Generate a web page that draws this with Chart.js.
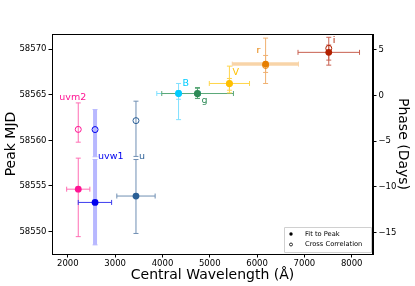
<!DOCTYPE html>
<html>
<head>
<meta charset="utf-8">
<script src="https://cdn.jsdelivr.net/npm/chart.js@4"></script>
<style>
  html, body { margin: 0; padding: 0; background: #fff; }
  canvas { display: block; }
</style>
</head>
<body>
<canvas id="myChart" width="415" height="286"></canvas>
<script>
  // bands, central wavelengths (A) and their widths
  const bands = ['uvm2', 'uvw1', 'u', 'B', 'g', 'V', 'r', 'i'];
  const wavelength = [2220, 2575, 3440, 4340, 4740, 5415, 6180, 7515];
  const wlLow = [1975, 2220, 3035, 3880, 3985, 4990, 5475, 6865];
  const wlHigh = [2465, 2925, 3845, 4800, 5500, 5840, 6875, 8165];

  // fit to peak (MJD) and error range
  const fitPeak = [58554.65, 58553.2, 58553.9, 58565.13, 58565.13, 58566.23, 58568.35, 58569.64];
  const fitLow = [58549.45, 58548.55, 58549.8, 58564.5, 58564.58, 58565.49, 58567.44, 58568.79];
  const fitHigh = [58558.05, 58557.9, 58557.9, 58565.42, 58565.79, 58566.78, 58569.3, 58570.44];

  // cross correlation (MJD) and error range
  const ccPeak = [58561.2, 58561.18, 58562.16, 58565.13, 58565.1, 58566.2, 58568.2, 58570.08];
  const ccLow = [58559.8, 58558.2, 58558.24, 58562.27, 58564.6, 58565.2, 58566.23, 58568.24];
  const ccHigh = [58564.1, 58563.37, 58564.29, 58566.23, 58565.7, 58568.13, 58571.2, 58571.29];

  const xTicks = [2000, 3000, 4000, 5000, 6000, 7000, 8000];
  const yTicks = [58550, 58555, 58560, 58565, 58570];
  const phaseTicks = [-15, -10, -5, 0, 5];
  const phaseZero = 58564.9;

  const yMin = 58547.55, yMax = 58571.65;

  // styles
  const pointColors = ['#ff1493', '#0000ee', '#2a5f96', '#00ccff', '#2e8b57', '#ffc000', '#e67e00', '#b22000'];
  const barColors = ['#ff6eb4', '#3c3cee', '#6f8fb3', '#7fe0ff', '#5aa878', '#ffd54a', '#f0b070', '#c86050'];
  const labelOffsets = [[-19, -92], [3, -46], [3, -40], [4, -10], [4, 7], [3, -11], [-9, -14], [4, -12]];

  const fontFamily = "'DejaVu Sans', sans-serif";

  function line(c, x1, y1, x2, y2, color, w) {
      c.strokeStyle = color;
      c.lineWidth = w;
      c.beginPath();
      c.moveTo(x1, y1);
      c.lineTo(x2, y2);
      c.stroke();
  }

  function vbar(c, x, ya, yb, color, w) {
      line(c, x, ya, x, yb, color, w);
      line(c, x - 2.5, ya, x + 2.5, ya, color, 1);
      line(c, x - 2.5, yb, x + 2.5, yb, color, 1);
  }

  function hbar(c, y, xa, xb, color, w) {
      line(c, xa, y, xb, y, color, w);
      line(c, xa, y - 2.5, xa, y + 2.5, color, 1);
      line(c, xb, y - 2.5, xb, y + 2.5, color, 1);
  }

  const errorBars = {
      id: 'errorBars',
      beforeDatasetsDraw(chart) {
          const c = chart.ctx;
          const xs = chart.scales.x, ys = chart.scales.y;
          c.save();
          for (let i = 0; i < bands.length; i++) {
              const x = xs.getPixelForValue(wavelength[i]);
              const col = barColors[i];
              // thick translucent bars for uvw1 (vertical) and r (horizontal)
              const vw = i === 1 ? 4 : 1;
              const hw = i === 6 ? 3.5 : 1;
              const vcol = i === 1 ? '#b8b8ff' : col;
              const hcol = i === 6 ? '#f8d4a8' : col;
              vbar(c, x, ys.getPixelForValue(ccLow[i]), ys.getPixelForValue(ccHigh[i]), vcol, vw);
              vbar(c, x, ys.getPixelForValue(fitLow[i]), ys.getPixelForValue(fitHigh[i]), vcol, vw);
              hbar(c, ys.getPixelForValue(fitPeak[i]), xs.getPixelForValue(wlLow[i]), xs.getPixelForValue(wlHigh[i]), i === 1 ? '#3c3cee' : hcol, hw);
          }
          c.restore();
      },
      afterDatasetsDraw(chart) {
          const c = chart.ctx;
          const a = chart.chartArea;
          const xs = chart.scales.x, ys = chart.scales.y;
          c.save();
          // band labels
          c.font = '9.5px ' + fontFamily;
          c.textBaseline = 'middle';
          c.textAlign = 'left';
          for (let i = 0; i < bands.length; i++) {
              const x = xs.getPixelForValue(wavelength[i]);
              const y = ys.getPixelForValue(fitPeak[i]);
              c.fillStyle = pointColors[i];
              c.fillText(bands[i], x + labelOffsets[i][0], y + labelOffsets[i][1]);
          }
          // frame
          c.strokeStyle = '#000';
          c.lineWidth = 1;
          c.strokeRect(a.left + 0.5, a.top + 0.5, a.right - a.left - 1, a.bottom - a.top);
          // legend
          const bw = 87, bh = 25;
          const bx = a.right - bw - 2, by = a.bottom - bh - 2;
          c.fillStyle = 'rgba(255,255,255,0.85)';
          c.strokeStyle = '#d0d0d0';
          c.beginPath();
          c.rect(bx + 0.5, by + 0.5, bw, bh);
          c.fill();
          c.stroke();
          c.fillStyle = '#000';
          c.beginPath();
          c.arc(bx + 7, by + 7, 1.7, 0, Math.PI * 2);
          c.fill();
          c.strokeStyle = '#000';
          c.lineWidth = 0.8;
          c.beginPath();
          c.arc(bx + 7, by + 17.5, 1.5, 0, Math.PI * 2);
          c.stroke();
          c.font = '6.7px ' + fontFamily;
          c.fillText('Fit to Peak', bx + 21, by + 7);
          c.fillText('Cross Correlation', bx + 21, by + 17.5);
          c.restore();
      }
  };

  const ctx = document.getElementById('myChart').getContext('2d');

  const fitData = wavelength.map((w, i) => ({ x: w, y: fitPeak[i] }));
  const ccData = wavelength.map((w, i) => ({ x: w, y: ccPeak[i] }));

  const tickFont = { family: fontFamily, size: 8.5 };
  const titleFont = { family: fontFamily, size: 14 };

  new Chart(ctx, {
      type: 'scatter',
      data: {
          datasets: [{
              label: 'Cross Correlation',
              data: ccData,
              pointRadius: 3,
              pointBackgroundColor: 'rgba(255,255,255,0)',
              pointBorderColor: pointColors,
              pointBorderWidth: 1,
          }, {
              label: 'Fit to Peak',
              data: fitData,
              pointRadius: 3.4,
              pointBackgroundColor: pointColors,
              pointBorderColor: pointColors,
              pointBorderWidth: 0,
          }]
      },
      options: {
          responsive: false,
          animation: false,
          devicePixelRatio: 1,
          layout: { padding: { top: 34, left: 0, right: 0, bottom: 0 } },
          plugins: {
              legend: { display: false },
              tooltip: { enabled: false },
          },
          scales: {
              x: {
                  type: 'linear',
                  position: 'bottom',
                  min: 1665,
                  max: 8450,
                  afterFit: s => { s.height = 32; },
                  afterBuildTicks: s => { s.ticks = xTicks.map(v => ({ value: v })); },
                  grid: { drawOnChartArea: false, color: '#000', tickLength: 3.5 },
                  border: { color: '#000' },
                  ticks: { color: '#000', font: tickFont, padding: 1, maxRotation: 0, callback: v => String(v) },
                  title: { display: true, text: 'Central Wavelength (Å)', color: '#000', font: titleFont, padding: { top: 0, bottom: 2 } },
              },
              y: {
                  type: 'linear',
                  position: 'left',
                  min: yMin,
                  max: yMax,
                  afterFit: s => { s.width = 52; },
                  afterBuildTicks: s => { s.ticks = yTicks.map(v => ({ value: v })); },
                  grid: { drawOnChartArea: false, color: '#000', tickLength: 3.5 },
                  border: { color: '#000' },
                  ticks: { color: '#000', font: tickFont, padding: 2, callback: v => String(v) },
                  title: { display: true, text: 'Peak MJD', color: '#000', font: titleFont, padding: { top: 3, bottom: 0 } },
              },
              y2: {
                  type: 'linear',
                  position: 'right',
                  min: yMin - phaseZero,
                  max: yMax - phaseZero,
                  afterFit: s => { s.width = 42; },
                  afterBuildTicks: s => { s.ticks = phaseTicks.map(v => ({ value: v })); },
                  grid: { drawOnChartArea: false, color: '#000', tickLength: 3.5 },
                  border: { color: '#000' },
                  ticks: { color: '#000', font: tickFont, padding: 2, callback: v => v < 0 ? '\u2212' + Math.abs(v) : String(v) },
                  title: { display: true, text: 'Phase (Days)', color: '#000', font: titleFont, padding: { top: 4, bottom: 0 } },
              },
          }
      },
      plugins: [errorBars]
  });
</script>
</body>
</html>
